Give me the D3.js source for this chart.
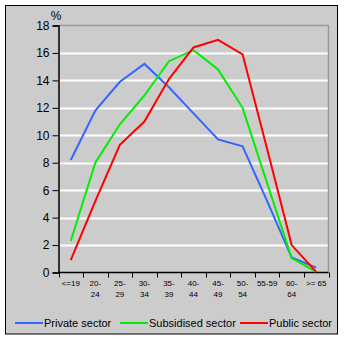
<!DOCTYPE html>
<html><head><meta charset="utf-8">
<script src="https://cdn.jsdelivr.net/npm/d3@7"></script>
<style>body{margin:0;background:#fff}svg{display:block}</style>
</head><body>
<script>
const categories = ["<=19","20-24","25-29","30-34","35-39","40-44","45-49","50-54","55-59","60-64",">= 65"];
const tickLabels = [["<=19"],["20-","24"],["25-","29"],["30-","34"],["35-","39"],["40-","44"],["45-","49"],["50-","54"],["55-59"],["60-","64"],[">= 65"]];
const privateSector = [8.2,11.8,13.9,15.2,13.5,11.6,9.7,9.2,5.2,1.1,0.35];
const subsidisedSector = [2.3,8.0,10.8,12.9,15.4,16.2,14.8,12.0,6.5,1.05,0.05];
const publicSector = [0.9,5.2,9.3,11.0,14.1,16.4,16.95,15.9,9.0,2.0,0.05];
const yTicks = [0,2,4,6,8,10,12,14,16,18];
const seriesNames = ["Private sector","Subsidised sector","Public sector"];
const colors = ["#3366ff","#00ee00","#ff0000"];

(function(){
const W=344,H=341;
const svg=d3.select("body").append("svg").attr("width",W).attr("height",H);
svg.append("rect").attr("x",5.5).attr("y",5.5).attr("width",332).attr("height",328.5)
  .attr("fill","#cccccc").attr("stroke","#000").attr("stroke-width",1);

const pL=58.5,pR=328.5,pT=25.5,pB=272.5;
const x=d3.scaleBand().domain(categories).range([pL,pR]);
const y=d3.scaleLinear().domain([0,18]).range([pB,pT]);

svg.append("g").selectAll("line").data(yTicks.filter(d=>d>0&&d<18)).join("line")
  .attr("x1",pL).attr("x2",pR).attr("y1",d=>Math.round(y(d))+0.5).attr("y2",d=>Math.round(y(d))+0.5)
  .attr("stroke","#fff").attr("stroke-width",2);
svg.append("path").attr("d",`M${pL},${pT}H${pR}V${pB}`).attr("fill","none").attr("stroke","#999").attr("stroke-width",1.5);

const ya=svg.append("g").attr("transform",`translate(${pL},0)`)
  .call(d3.axisLeft(y).tickValues(yTicks).tickSize(6).tickPadding(3).tickFormat(d3.format("d")));
ya.select(".domain").attr("stroke","#000").attr("stroke-width",1.5);
ya.selectAll(".tick line").attr("stroke","#000");
ya.selectAll("text").attr("font-family","Liberation Sans, Arial, sans-serif").attr("font-size",12).attr("fill","#000");

const xa=svg.append("g").attr("transform",`translate(0,${pB})`)
  .call(d3.axisBottom(x).tickSize(0).tickFormat(""));
xa.select(".domain").attr("stroke","#000").attr("stroke-width",1.5).attr("d",`M${pL},0H${pR}`);
svg.append("g").selectAll("line").data(d3.range(categories.length+1)).join("line")
  .attr("x1",i=>Math.round(i<categories.length?x(categories[i]):pR)+0.5)
  .attr("x2",i=>Math.round(i<categories.length?x(categories[i]):pR)+0.5)
  .attr("y1",pB).attr("y2",pB+5).attr("stroke","#000");
const lab=svg.append("g").attr("font-family","Liberation Sans Narrow, Liberation Sans, Arial, sans-serif").attr("font-size",8).attr("text-anchor","middle");
categories.forEach((c,i)=>{
  tickLabels[i].forEach((t,j)=>{
    lab.append("text").attr("x",x(c)+x.bandwidth()/2).attr("y",286+j*10.5).text(t);
  });
});

svg.append("text").attr("x",56).attr("y",20).attr("text-anchor","middle")
  .attr("font-family","Liberation Sans, Arial, sans-serif").attr("font-size",12).text("%");

const line=d3.line().x((d,i)=>x(categories[i])+x.bandwidth()/2).y(d=>y(d));
[privateSector,subsidisedSector,publicSector].forEach((s,k)=>{
  svg.append("path").datum(s).attr("d",line).attr("fill","none").attr("stroke",colors[k]).attr("stroke-width",2);
});

const lx=[15,120,240];
const lg=svg.append("g").attr("font-family","Liberation Sans, Arial, sans-serif").attr("font-size",11);
seriesNames.forEach((n,k)=>{
  lg.append("line").attr("x1",lx[k]).attr("x2",lx[k]+28).attr("y1",323).attr("y2",323).attr("stroke",colors[k]).attr("stroke-width",2);
  lg.append("text").attr("x",lx[k]+29).attr("y",327).text(n);
});
})();
</script>
</body></html>
